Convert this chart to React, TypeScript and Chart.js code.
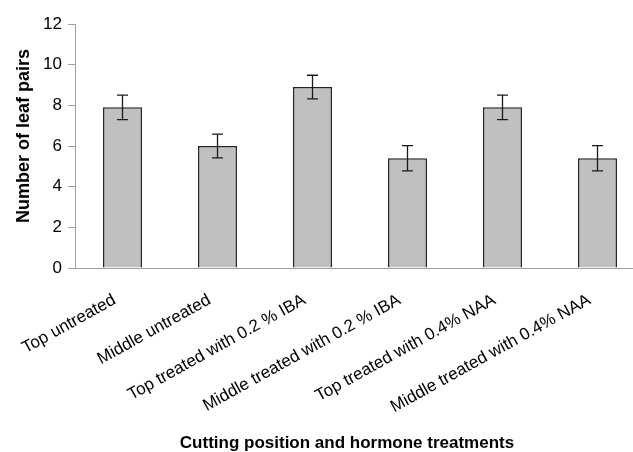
import React, { useEffect, useRef } from 'react';
import { Chart, registerables } from 'chart.js';

Chart.register(...registerables);

const categories = [
  'Top untreated',
  'Middle untreated',
  'Top treated with 0.2 % IBA',
  'Middle treated with 0.2 % IBA',
  'Top treated with 0.4% NAA',
  'Middle treated with 0.4% NAA',
];
const means = [7.9, 6.0, 8.9, 5.4, 7.9, 5.4];
const errors = [0.6, 0.58, 0.58, 0.62, 0.6, 0.62];
const yTicks = [0, 2, 4, 6, 8, 10, 12];
const yTitle = 'Number of leaf pairs';
const xTitle = 'Cutting position and hormone treatments';

const FONT = '"Liberation Sans", Arial, Helvetica, sans-serif';
const AXIS_GRAY = '#a0a0a0';

const decorPlugin = {
  id: 'decor',
  afterDatasetsDraw(chart: any) {
    const ctx = chart.ctx;
    const ys = chart.scales.y;
    const meta = chart.getDatasetMeta(0);
    ctx.save();
    ctx.strokeStyle = '#1a1a1a';
    ctx.lineWidth = 1.3;
    meta.data.forEach((bar: any, i: number) => {
      const x = bar.x;
      const top = ys.getPixelForValue(means[i] + errors[i]);
      const bot = ys.getPixelForValue(means[i] - errors[i]);
      ctx.beginPath();
      ctx.moveTo(x, top);
      ctx.lineTo(x, bot);
      ctx.moveTo(x - 5.5, top);
      ctx.lineTo(x + 5.5, top);
      ctx.moveTo(x - 5.5, bot);
      ctx.lineTo(x + 5.5, bot);
      ctx.stroke();
    });
    ctx.restore();
  },
  afterDraw(chart: any) {
    const ctx = chart.ctx;
    const ys = chart.scales.y;
    ctx.save();
    ctx.fillStyle = '#000';
    // x-axis title
    ctx.font = `bold 17px ${FONT}`;
    ctx.textAlign = 'center';
    ctx.textBaseline = 'alphabetic';
    ctx.fillText(xTitle, 347, 448);
    // y-axis title
    ctx.translate(24, (ys.top + ys.bottom) / 2 - 10);
    ctx.rotate(-Math.PI / 2);
    ctx.textBaseline = 'middle';
    ctx.font = `bold 18px ${FONT}`;
    ctx.fillText(yTitle, 0, 0);
    ctx.restore();
  },
};

export default function App() {
  const ref = useRef<HTMLCanvasElement | null>(null);

  useEffect(() => {
    if (!ref.current) return;
    const chart = new Chart(ref.current, {
      type: 'bar',
      data: {
        labels: categories,
        datasets: [
          {
            data: means,
            backgroundColor: '#c0c0c0',
            borderColor: '#222222',
            borderWidth: 1.5,
            barPercentage: 0.41,
            categoryPercentage: 1,
          },
        ],
      },
      options: {
        responsive: false,
        animation: false,
        devicePixelRatio: 1,
        layout: { padding: { top: 24, right: 15, bottom: 0, left: 0 } },
        plugins: {
          legend: { display: false },
          tooltip: { enabled: false },
        },
        scales: {
          x: {
            type: 'category',
            grid: { display: false, drawTicks: false },
            border: { display: true, color: AXIS_GRAY, width: 1 },
            ticks: {
              autoSkip: false,
              minRotation: 29,
              maxRotation: 29,
              labelOffset: -8,
              padding: 22,
              color: '#000',
              font: { family: FONT, size: 17 },
            },
            afterFit: (s: any) => {
              s.height = 184;
            },
          },
          y: {
            min: 0,
            max: 12,
            afterBuildTicks: (s: any) => {
              s.ticks = yTicks.map((v) => ({ value: v }));
            },
            ticks: {
              font: { family: FONT, size: 17 },
              color: '#000',
              padding: 6,
            },
            grid: {
              drawOnChartArea: false,
              drawTicks: true,
              tickLength: 7,
              color: AXIS_GRAY,
            },
            border: { display: true, color: AXIS_GRAY, width: 1 },
            afterFit: (s: any) => {
              s.width = 75;
            },
          },
        },
      },
      plugins: [decorPlugin],
    } as any);
    return () => chart.destroy();
  }, []);

  return (
    <div
      style={{
        position: 'fixed',
        left: 0,
        top: 0,
        width: 633,
        height: 452,
        overflow: 'hidden',
        background: '#fff',
      }}
    >
      <canvas ref={ref} width={660} height={452} style={{ display: 'block' }} />
    </div>
  );
}
